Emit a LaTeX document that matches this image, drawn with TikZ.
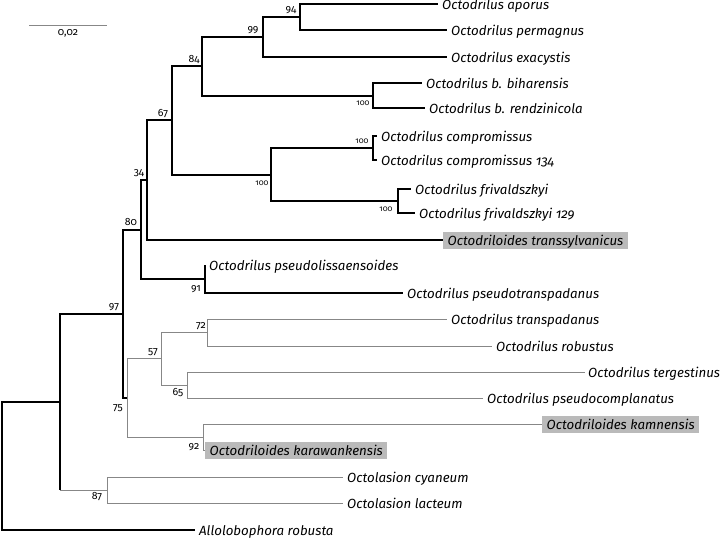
\documentclass[tikz,border=0pt]{standalone}
\usepackage{fontspec}
\setmainfont{Fira Sans}[Numbers=OldStyle]
\usepackage{xcolor}
\definecolor{branch-gray}{RGB}{135,135,135}
\definecolor{box-gray}{RGB}{186,186,186}
\tikzset{
    leaf/.style = {anchor=west, inner xsep=4pt, inner ysep=2pt, text height=12pt, text depth=1pt, font=\itshape\fontsize{13.3}{15}\selectfont},
    leaf-box/.style = {leaf, fill=box-gray, inner xsep=4.5pt},
    branch/.style = {draw=black, line width=1.15pt},
    branch-light/.style = {draw=branch-gray, line width=1pt},
    boot/.style = {inner sep=1pt, font=\fontsize{10.5}{11}\selectfont},
    boot-small/.style = {boot, font=\fontsize{8}{9}\selectfont},
}

\begin{document}
\begin{tikzpicture}[x=1pt, y=-1pt]
\useasboundingbox (0,0) rectangle (725,538);

% scale bar
\coordinate (scale-l) at (29,25);
\coordinate (scale-r) at (107,25);
\draw[branch-light] (scale-l) -- (scale-r);
\node[boot] (scale-label) at (68,33) {0,02};

% internal nodes
\coordinate (root) at (2,466);
\coordinate (n-all) at (60,402);
\coordinate (n97) at (123,314);
\coordinate (n80) at (141,230);
\coordinate (n34) at (147,180);
\coordinate (n67) at (172,120);
\coordinate (n84) at (202,66);
\coordinate (n99) at (263,37);
\coordinate (n94) at (300,17);
\coordinate (n100b) at (373,96);
\coordinate (n100c) at (271,175);
\coordinate (n100d) at (373,148);
\coordinate (n100e) at (398,201);
\coordinate (n91) at (205,279);
\coordinate (n75) at (127,398);
\coordinate (n57) at (161,358);
\coordinate (n72) at (207,332);
\coordinate (n65) at (187,385);
\coordinate (n92) at (203,437);
\coordinate (n87) at (107,490);

% leaves
\node[leaf] (aporus) at (438,4) {Octodrilus aporus};
\node[leaf] (permagnus) at (447,30) {Octodrilus permagnus};
\node[leaf] (exacystis) at (447,57) {Octodrilus exacystis};
\node[leaf] (biharensis) at (422,83) {Octodrilus b. biharensis};
\node[leaf] (rendzinicola) at (425,108) {Octodrilus b. rendzinicola};
\node[leaf] (compromissus) at (377,136) {Octodrilus compromissus};
\node[leaf] (compromissus-134) at (377,160) {Octodrilus compromissus 134};
\node[leaf] (frivaldszkyi) at (411,189) {Octodrilus frivaldszkyi};
\node[leaf] (frivaldszkyi-129) at (415,213) {Octodrilus frivaldszkyi 129};
\node[leaf-box] (transsylvanicus) at (443,240) {Octodriloides transsylvanicus};
\node[leaf] (pseudolissaensoides) at (205,265) {Octodrilus pseudolissaensoides};
\node[leaf] (pseudotranspadanus) at (403,293) {Octodrilus pseudotranspadanus};
\node[leaf] (transpadanus) at (447,319) {Octodrilus transpadanus};
\node[leaf] (robustus) at (492,346) {Octodrilus robustus};
\node[leaf, inner xsep=3pt] (tergestinus) at (585,372) {Octodrilus tergestinus};
\node[leaf] (pseudocomplanatus) at (483,398) {Octodrilus pseudocomplanatus};
\node[leaf-box] (kamnensis) at (542,424) {Octodriloides kamnensis};
\node[leaf-box] (karawankensis) at (205,450) {Octodriloides karawankensis};
\node[leaf] (cyaneum) at (343,477) {Octolasion cyaneum};
\node[leaf] (lacteum) at (343,503) {Octolasion lacteum};
\node[leaf] (allolobophora) at (195,530) {Allolobophora robusta};

% black branches
\draw[branch] (root) |- (n-all);
\draw[branch] (root) |- (allolobophora.west);
\draw[branch] (n-all) |- (n97);
\draw[branch] (n-all) -- (n-all |- n87);
\draw[branch] (n97) |- (n80);
\draw[branch] (n97) |- (n75);
\draw[branch] (n80) |- (n34);
\draw[branch] (n80) |- (n91);
\draw[branch] (n34) |- (n67);
\draw[branch] (n34) |- (transsylvanicus.west);
\draw[branch] (n67) |- (n84);
\draw[branch] (n67) |- (n100c);
\draw[branch] (n84) |- (n99);
\draw[branch] (n84) |- (n100b);
\draw[branch] (n99) |- (n94);
\draw[branch] (n99) |- (exacystis.west);
\draw[branch] (n94) |- (aporus.west);
\draw[branch] (n94) |- (permagnus.west);
\draw[branch] (n100b) |- (biharensis.west);
\draw[branch] (n100b) |- (rendzinicola.west);
\draw[branch] (n100c) |- (n100d);
\draw[branch] (n100c) |- (n100e);
\draw[branch] (n100d) |- (compromissus.west);
\draw[branch] (n100d) |- (compromissus-134.west);
\draw[branch] (n100e) |- (frivaldszkyi.west);
\draw[branch] (n100e) |- (frivaldszkyi-129.west);
\draw[branch] (n91) |- (pseudolissaensoides.west);
\draw[branch] (n91) |- (pseudotranspadanus.west);

% grey branches
\draw[branch-light] (n-all |- n87) -- (n87);
\draw[branch-light] (n75) |- (n57);
\draw[branch-light] (n75) |- (n92);
\draw[branch-light] (n57) |- (n72);
\draw[branch-light] (n57) |- (n65);
\draw[branch-light] (n72) |- (transpadanus.west);
\draw[branch-light] (n72) |- (robustus.west);
\draw[branch-light] (n65) |- (tergestinus.west);
\draw[branch-light] (n65) |- (pseudocomplanatus.west);
\draw[branch-light] (n92) |- (kamnensis.west);
\draw[branch-light] (n92) |- (karawankensis.west);
\draw[branch-light] (n87) |- (cyaneum.west);
\draw[branch-light] (n87) |- (lacteum.west);

% bootstrap values
\node[boot] (b94) at (291,10) {94};
\node[boot] (b99) at (253,30) {99};
\node[boot] (b84) at (194,59) {84};
\node[boot] (b67) at (163,114) {67};
\node[boot] (b34) at (139,173) {34};
\node[boot] (b80) at (131,222) {80};
\node[boot] (b97) at (114,307) {97};
\node[boot-small] (b100b) at (363,103) {100};
\node[boot-small] (b100d) at (362,141) {100};
\node[boot-small] (b100c) at (262,183) {100};
\node[boot-small] (b100e) at (386,209) {100};
\node[boot] (b91) at (196,289) {91};
\node[boot] (b72) at (201,326) {72};
\node[boot] (b57) at (153,352) {57};
\node[boot] (b65) at (178,393) {65};
\node[boot] (b75) at (118,408) {75};
\node[boot] (b92) at (194,447) {92};
\node[boot] (b87) at (97,497) {87};
\end{tikzpicture}
\end{document}
